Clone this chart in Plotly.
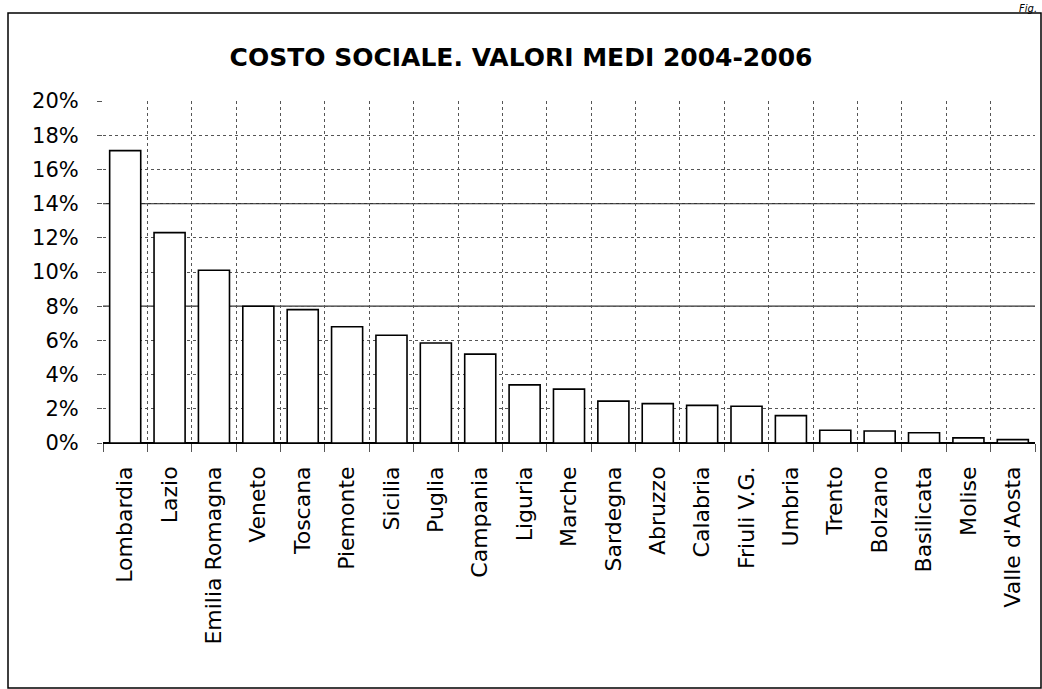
import plotly.graph_objects as go

regions = ["Lombardia", "Lazio", "Emilia Romagna", "Veneto", "Toscana", "Piemonte",
           "Sicilia", "Puglia", "Campania", "Liguria", "Marche", "Sardegna", "Abruzzo",
           "Calabria", "Friuli V.G.", "Umbria", "Trento", "Bolzano", "Basilicata",
           "Molise", "Valle d'Aosta"]
values = [17.1, 12.3, 10.1, 8.0, 7.8, 6.8, 6.3, 5.85, 5.2, 3.4, 3.15, 2.45, 2.3,
          2.2, 2.15, 1.6, 0.75, 0.7, 0.6, 0.3, 0.2]
ytick_vals = [0, 2, 4, 6, 8, 10, 12, 14, 16, 18, 20]
ytick_text = [f"{v}%" for v in ytick_vals]
title_text = "COSTO SOCIALE. VALORI MEDI 2004-2006"

FONT = "DejaVu Sans"
W, H = 1042, 689
L, R, T, B = 103, 1035, 101, 443

xpos = list(range(len(regions)))

fig = go.Figure()
fig.add_trace(go.Bar(
    x=xpos, y=values, width=0.7,
    marker=dict(color="white", line=dict(color="black", width=1.6)),
    showlegend=False, hoverinfo="skip",
))

# solid horizontal lines (as in the scan)
for yv in [8, 14]:
    fig.add_shape(type="line", xref="paper", yref="y", x0=0, x1=1, y0=yv, y1=yv,
                  line=dict(color="#333333", width=1.2), layer="below")

def px2paperx(px):
    return (px - L) / (R - L)

def py2papery(py):
    return (B - py) / (B - T)

# outer frame
fig.add_shape(type="rect", xref="paper", yref="paper",
              x0=px2paperx(8), x1=px2paperx(1041), y0=py2papery(688), y1=py2papery(13),
              line=dict(color="black", width=1.5), fillcolor="rgba(0,0,0,0)")

fig.add_annotation(text="<i>Fig.</i>", xref="paper", yref="paper",
                   x=px2paperx(1038), y=py2papery(15), xanchor="right", yanchor="bottom",
                   showarrow=False, borderpad=0,
                   font=dict(family=FONT, size=10, color="black"))

fig.update_layout(
    width=W, height=H,
    margin=dict(l=L, r=W - R, t=T, b=H - B, pad=0),
    paper_bgcolor="white", plot_bgcolor="white",
    title=dict(text=f"<b>{title_text}</b>", x=0.5, xanchor="center",
               y=1 - 57 / H, yanchor="middle",
               font=dict(family=FONT, size=25, color="black")),
    bargap=0.3,
    xaxis=dict(
        range=[-0.5, len(regions) - 0.5],
        tickmode="array", tickvals=xpos, ticktext=regions, tickangle=-90,
        ticks="", showgrid=False, zeroline=False, ticklabelstandoff=18,
        tickfont=dict(family=FONT, size=22, color="black"),
        minor=dict(tick0=-0.5, dtick=1, showgrid=True, gridcolor="#555555",
                   griddash="dot", gridwidth=1, ticks="outside", ticklen=8,
                   tickcolor="#555555"),
        showline=False,
    ),
    yaxis=dict(
        range=[0, 20], tickmode="array", tickvals=ytick_vals, ticktext=ytick_text,
        showgrid=True, gridcolor="#555555", griddash="dot", gridwidth=1,
        zeroline=True, zerolinecolor="black", zerolinewidth=1.5,
        ticks="outside", ticklen=5, tickcolor="#555555", ticklabelstandoff=14,
        tickfont=dict(family=FONT, size=21, color="black"),
    ),
    font=dict(family=FONT, color="black"),
)

fig.write_html("out.html", config={"displayModeBar": False},
               post_script="document.body.style.margin='0px';")
